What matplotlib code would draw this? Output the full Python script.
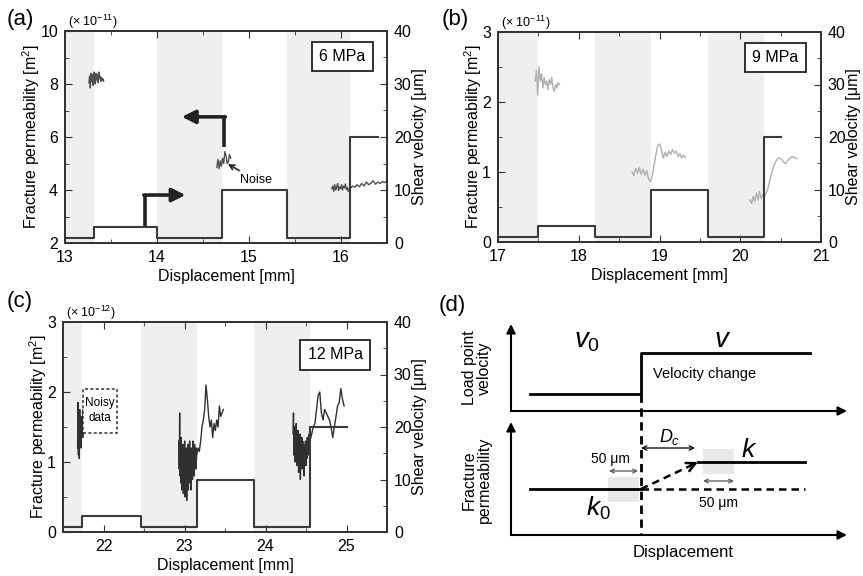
import numpy as np
import matplotlib
matplotlib.use('Agg')
import matplotlib.pyplot as plt
from matplotlib.ticker import MultipleLocator
from matplotlib.patches import Rectangle

plt.rcParams['font.family'] = ['Liberation Sans', 'DejaVu Sans']
plt.rcParams['mathtext.fontset'] = 'custom'
plt.rcParams['mathtext.rm'] = 'Liberation Sans'
plt.rcParams['mathtext.it'] = 'Liberation Sans:italic'

# ---- (a) 6 MPa ----
a_shade = [[13.0, 13.31], [14.0, 14.71], [15.41, 16.1]]
a_vel_x = [13.0, 13.31, 14.0, 14.71, 15.41, 16.1, 16.4]
a_vel = [1, 3, 1, 10, 1, 20, 20]
a_k1 = [8.05, 8.3, 7.85, 8.4, 8.1, 8.35, 7.95, 8.45, 8.2, 8.0, 8.4,
        8.15, 8.35, 8.05, 8.45, 8.2, 8.3, 8.1, 8.25, 8.15, 8.2, 8.1]
a_k2 = [4.85, 5.15, 4.8, 5.1, 4.9, 5.2, 5.0, 5.45, 5.3, 5.0, 5.05, 5.35, 5.2]
a_k3 = [4.05, 4.15, 3.95, 4.2, 4.0, 4.1, 4.25, 3.98, 4.12, 4.05,
        4.2, 4.0, 4.15, 4.08, 4.22, 4.02, 4.1, 3.95, 4.05, 4.1]
a_k4 = [4.05, 4.15, 4.1, 4.2, 4.12, 4.25, 4.15, 4.3, 4.2, 4.25,
        4.35, 4.22, 4.3, 4.25, 4.32, 4.28, 4.35]
a_traces = [[13.26, 13.42, a_k1], [14.65, 14.80, a_k2],
            [15.90, 16.10, a_k3], [16.10, 16.50, a_k4]]

# ---- (b) 9 MPa ----
b_shade = [[17.0, 17.5], [18.2, 18.89], [19.6, 20.29]]
b_vel_x = [17.0, 17.5, 18.2, 18.89, 19.6, 20.29, 20.51]
b_vel = [1, 3, 1, 10, 1, 20, 20]
b_k1 = [2.3, 2.45, 2.1, 2.5, 2.3, 2.4, 2.2, 2.35, 2.25, 2.3, 2.18, 2.32,
        2.25, 2.35, 2.2, 2.15, 2.25, 2.2, 2.28, 2.25]
b_k2 = [1.0, 0.95, 1.05, 0.98, 1.06, 0.97, 1.04, 0.95, 1.02, 0.9, 0.86,
        0.95, 1.1, 1.25, 1.38, 1.4, 1.32, 1.2, 1.28, 1.22, 1.3, 1.25,
        1.32, 1.27, 1.3, 1.22, 1.26, 1.2, 1.24, 1.21]
b_k3 = [0.6, 0.55, 0.65, 0.58, 0.7, 0.6, 0.72, 0.62, 0.68, 0.65, 0.7,
        0.75, 0.85, 0.95, 1.03, 1.1, 1.15, 1.19, 1.2, 1.19, 1.17, 1.14,
        1.12, 1.15, 1.18, 1.2, 1.22, 1.21, 1.2, 1.19]
b_traces = [[17.46, 17.76, b_k1], [18.66, 19.32, b_k2], [20.12, 20.70, b_k3]]

# ---- (c) 12 MPa ----
c_shade = [[21.5, 21.74], [22.46, 23.15], [23.86, 24.55]]
c_vel_x = [21.5, 21.74, 22.46, 23.15, 23.86, 24.55, 25.0]
c_vel = [1, 3, 1, 10, 1, 20, 20]
c_k1 = [1.2, 1.85, 1.1, 1.6, 1.05, 1.75, 1.3, 1.5, 1.2, 1.65, 1.4, 1.55,
        1.35, 1.75, 1.5, 1.6]
c_k2 = [1.3, 0.9, 1.7, 0.8, 1.2, 0.7, 1.35, 0.6, 1.1, 0.85, 1.25, 0.55,
        1.0, 0.75, 1.3, 0.5, 1.1, 0.65, 1.2, 0.45, 1.05, 0.8, 1.25, 0.6,
        1.15, 0.7, 1.3, 0.85, 1.1, 0.6, 1.2, 0.9, 1.05, 0.75, 1.3, 0.95,
        1.15, 0.8, 1.25, 1.0, 1.1, 0.9, 1.2, 1.05]
c_k3 = [1.1, 1.2, 1.15, 1.3, 1.5, 1.6, 1.75, 2.1, 1.9, 1.65, 1.5, 1.6,
        1.35, 1.55, 1.45, 1.6, 1.5, 1.8, 1.65, 1.7, 1.75]
c_k4 = [1.4, 1.7, 1.1, 1.5, 1.0, 1.35, 1.2, 1.55, 0.95, 1.3, 1.05, 1.45,
        0.85, 1.25, 1.1, 1.4, 0.75, 1.2, 1.0, 1.35, 0.9, 1.3, 1.05, 1.25,
        0.8, 1.2, 1.1, 1.3, 0.95, 1.25, 1.05, 1.35, 1.15, 1.3, 1.1, 1.4,
        1.2, 1.45]
c_k5 = [1.3, 1.4, 1.5, 1.55, 1.75, 1.95, 2.0, 1.7, 1.6, 1.75, 1.7, 1.65,
        1.6, 1.5, 1.35, 1.5, 1.65, 1.8, 1.85, 2.05, 1.9, 1.8]
c_traces = [[21.68, 21.76, c_k1], [22.93, 23.15, c_k2], [23.15, 23.48, c_k3],
            [24.34, 24.55, c_k4], [24.55, 24.97, c_k5]]

W, H = 863, 576
fig = plt.figure(figsize=(W / 100, H / 100), dpi=100)


def px_axes(l, t, r, b):
    return fig.add_axes([l / W, 1 - b / H, (r - l) / W, (b - t) / H])


def panel(ax, xlim, ylim, ymaj, shade, vel_x, vel, traces, tcol, scale, label, boxpos):
    ax2 = ax.twinx()
    for s in shade:
        ax.axvspan(s[0], s[1], color='#efefef', lw=0, zorder=0)
    for x0, x1, k in traces:
        ax.plot(np.linspace(x0, x1, len(k)), k, color=tcol, lw=1.0)
    ax2.step(vel_x, vel, where='post', color='#3a3a3a', lw=1.5)
    ax.set_xlim(xlim)
    ax.set_ylim(ylim)
    ax2.set_ylim(0, 40)
    ax.xaxis.set_major_locator(MultipleLocator(1))
    ax.xaxis.set_minor_locator(MultipleLocator(0.5))
    ax.yaxis.set_major_locator(MultipleLocator(ymaj))
    ax.yaxis.set_minor_locator(MultipleLocator(ymaj / 2))
    ax2.yaxis.set_major_locator(MultipleLocator(10))
    ax2.yaxis.set_minor_locator(MultipleLocator(5))
    ax.tick_params(which='both', direction='in', top=True, right=False,
                   labelsize=11.5, pad=5, color='#333')
    ax2.tick_params(which='both', direction='in', labelsize=11.5, pad=5, color='#333')
    for a in (ax, ax2):
        a.tick_params(which='major', length=5)
        a.tick_params(which='minor', length=3)
        for sp in a.spines.values():
            sp.set_color('#333')
            sp.set_linewidth(1.3)
    ax.set_xlabel('Displacement [mm]', fontsize=11.5, labelpad=3)
    ax.set_ylabel('Fracture permeability [m$^2$]', fontsize=11.5, labelpad=-1)
    ax2.set_ylabel('Shear velocity [μm]', fontsize=11.5, labelpad=0)
    ax.text(0.01, 1.045, scale, transform=ax.transAxes, fontsize=9,
            ha='left', va='center')
    ax.text(boxpos[0], boxpos[1], label, transform=ax.transAxes, fontsize=11.5,
            ha='center', va='center', zorder=5,
            bbox=dict(boxstyle='square,pad=0.45', fc='white', ec='#222', lw=1.3))
    return ax2


# (a)
ax_a = px_axes(65, 31, 387, 243)
panel(ax_a, [13, 16.5], [2, 10], 2, a_shade, a_vel_x, a_vel, a_traces,
      '#505050', '(× 10$^{-11}$)', '6 MPa', (0.862, 0.88))
ax_a.plot([13.87, 13.87], [2.6, 3.81], color='#222', lw=2.6, solid_capstyle='butt')
ax_a.annotate('', xy=(14.31, 3.81), xytext=(13.857, 3.81),
              arrowprops=dict(arrowstyle='-|>', lw=2.6, color='#222',
                              mutation_scale=20, shrinkA=0, shrinkB=0))
ax_a.plot([14.73, 14.73], [5.63, 6.76], color='#222', lw=2.6, solid_capstyle='butt')
ax_a.annotate('', xy=(14.27, 6.76), xytext=(14.743, 6.76),
              arrowprops=dict(arrowstyle='-|>', lw=2.6, color='#222',
                              mutation_scale=20, shrinkA=0, shrinkB=0))
ax_a.annotate('Noise', xy=(14.77, 4.98), xytext=(14.9, 4.38), fontsize=9,
              ha='left', va='center',
              arrowprops=dict(arrowstyle='->', lw=1.2, color='#222',
                              shrinkA=1, shrinkB=0))

# (b)
ax_b = px_axes(498, 32, 821, 242)
panel(ax_b, [17, 21], [0, 3], 1, b_shade, b_vel_x, b_vel, b_traces,
      '#b0b0b0', '(× 10$^{-11}$)', '9 MPa', (0.859, 0.88))

# (c)
ax_c = px_axes(63, 322, 387, 532)
panel(ax_c, [21.5, 25.5], [0, 3], 1, c_shade, c_vel_x, c_vel, c_traces,
      '#303030', '(× 10$^{-12}$)', '12 MPa', (0.84, 0.843))
ax_c.add_patch(Rectangle((21.75, 1.42), 0.42, 0.63, fc='white', ec='#333',
                         ls=(0, (2, 1.5)), lw=1.1, zorder=3))
ax_c.text(21.96, 1.735, 'Noisy\ndata', fontsize=8.5, ha='center', va='center',
          linespacing=1.3, zorder=4)

# panel letters
for txt, x, y in [('(a)', 20, 20), ('(b)', 455, 20), ('(c)', 20, 302), ('(d)', 452, 305)]:
    fig.text(x / W, 1 - y / H, txt, fontsize=16, ha='center', va='center')

# ---- (d) schematic (units: pixels of the panel) ----
d_x_axis = [511, 847]
d_top_base, d_top_tip = 411, 324
d_bot_base, d_bot_tip = 535, 422
d_x_start, d_x_change, d_x_dc, d_x_end = 530, 641, 698, 810
d_v0, d_v = 394, 353
d_k0, d_k = 489, 462
d_box1 = [608, 477, 31, 25]
d_box2 = [703, 449, 31, 25]

ax_d = px_axes(430, 286, 863, 576)
ax_d.set_xlim(430, 863)
ax_d.set_ylim(576, 286)
ax_d.axis('off')

ax_d.add_patch(Rectangle(d_box1[:2], d_box1[2], d_box1[3], fc='#e8e8e8', lw=0, zorder=0))
ax_d.add_patch(Rectangle(d_box2[:2], d_box2[2], d_box2[3], fc='#e8e8e8', lw=0, zorder=0))

axarrow = dict(arrowstyle='-|>', lw=1.5, color='k', mutation_scale=13, shrinkA=0, shrinkB=0)
for base, tip in [(d_top_base, d_top_tip), (d_bot_base, d_bot_tip)]:
    ax_d.annotate('', xy=(d_x_axis[0], tip), xytext=(d_x_axis[0], base), arrowprops=axarrow)
    ax_d.annotate('', xy=(d_x_axis[1], base), xytext=(d_x_axis[0], base), arrowprops=axarrow)

ax_d.plot([d_x_start, d_x_change, d_x_change, d_x_end], [d_v0, d_v0, d_v, d_v],
          color='k', lw=2)
ax_d.plot([d_x_change, d_x_change], [d_v0, d_bot_base], color='k', lw=2, ls=(0, (3, 2)))
ax_d.plot([d_x_start, d_x_change], [d_k0, d_k0], color='k', lw=2)
ax_d.plot([d_x_change, 805], [d_k0, d_k0], color='k', lw=1.8, ls=(0, (3, 2)))
ax_d.plot([d_x_dc, 805], [d_k, d_k], color='k', lw=2)
ax_d.plot([d_x_change, d_x_dc - 6], [d_k0, d_k + 3], color='k', lw=1.8, ls=(0, (3, 2)))
ax_d.annotate('', xy=(d_x_dc, d_k), xytext=(d_x_dc - 8, d_k + 3.8),
              arrowprops=dict(arrowstyle='->', lw=1.8, color='k', mutation_scale=16,
                              shrinkA=0, shrinkB=0))

thin = dict(arrowstyle='<->', lw=0.9, color='k', mutation_scale=8, shrinkA=0, shrinkB=0)
ax_d.annotate('', xy=(695, 448), xytext=(d_x_change, 448), arrowprops=thin)
gthin = dict(arrowstyle='<->', lw=0.9, color='#555', mutation_scale=7, shrinkA=0, shrinkB=0)
ax_d.annotate('', xy=(638, 471), xytext=(609, 471), arrowprops=gthin)
ax_d.annotate('', xy=(734, 481), xytext=(703, 481), arrowprops=gthin)

ax_d.text(587, 341, '$v_0$', fontsize=20, ha='center', va='center')
ax_d.text(723, 340, '$v$', fontsize=20, ha='center', va='center')
ax_d.text(653, 374, 'Velocity change', fontsize=10.5, ha='left', va='center')
ax_d.text(670, 437, '$D_c$', fontsize=13, ha='center', va='center')
ax_d.text(749, 450, '$k$', fontsize=19, ha='center', va='center')
ax_d.text(598, 508, '$k_\\mathit{0}$', fontsize=19, ha='center', va='center')
ax_d.text(610, 459, '50 μm', fontsize=10, ha='center', va='center')
ax_d.text(718, 503, '50 μm', fontsize=10, ha='center', va='center')
ax_d.text(477, 368, 'Load point\nvelocity', fontsize=11.5, rotation=90,
          ha='center', va='center', linespacing=1.05)
ax_d.text(477, 480, 'Fracture\npermeability', fontsize=11.5, rotation=90,
          ha='center', va='center', linespacing=1.05)
ax_d.text(683, 552, 'Displacement', fontsize=12, ha='center', va='center')

fig.savefig('out.png', dpi=100)
